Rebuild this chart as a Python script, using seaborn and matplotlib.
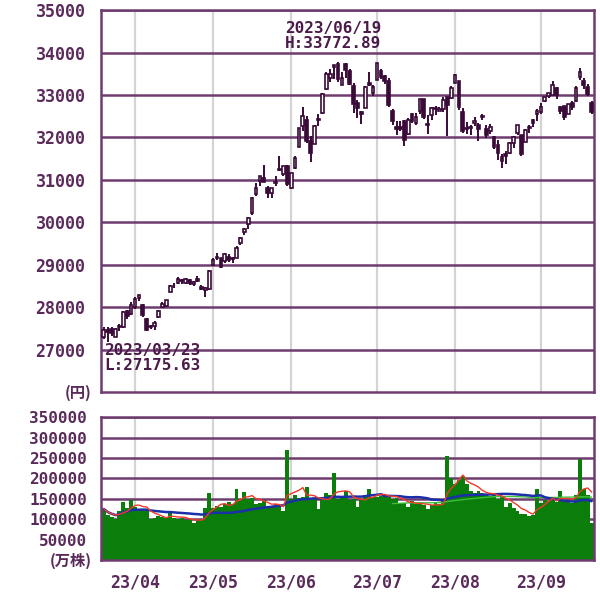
import numpy as np
import pandas as pd
import matplotlib
matplotlib.use("Agg")
import matplotlib.pyplot as plt
import seaborn as sns

# daily OHLC (yen), 2023/03/22 .. 2023/09/21
opens = [27300, 27460, 27480, 27300, 27560, 27520, 27900, 27830, 28000, 28220,
         28060, 27720, 27560, 27560, 27760, 28000, 28030, 28350, 28520, 28570,
         28620, 28560, 28640, 28540, 28660, 28470, 28400, 28420, 29000, 29150,
         29150, 29080, 29190, 29140, 29160, 29500, 29760, 29950, 30210, 30670,
         30980, 31050, 30800, 30700, 30960, 31260, 31130, 31320, 30800, 31280,
         31780, 32260, 32410, 31920, 31850, 32400, 32580, 33150, 33390, 33660,
         33720, 33240, 33720, 33570, 33200, 32800, 32590, 32700, 33280, 33050,
         33350, 33570, 33440, 33340, 32620, 32240, 32250, 32380, 32080, 32550,
         32340, 32630, 32900, 32300, 32530, 32700, 32620, 32680, 32960, 32930,
         33290, 33340, 32600, 32230, 32210, 32350, 32300, 32510, 32200, 32140,
         32010, 31830, 31540, 31620, 31630, 31860, 32100, 32050, 31900, 32220,
         32400, 32540, 32600, 32850, 32970, 33000, 33170, 32720, 32740, 32550,
         32820, 32860, 33420, 33330, 33180, 32800]
highs = [27520, 27520, 27520, 27500, 27600, 27900, 27930, 28120, 28230, 28290,
         28070, 27740, 27580, 27680, 27930, 28120, 28160, 28530, 28560, 28700,
         28660, 28690, 28670, 28620, 28740, 28520, 28480, 28880, 29160, 29280,
         29160, 29280, 29240, 29170, 29430, 29650, 29870, 30130, 30600, 30920,
         31090, 31350, 30860, 30800, 31090, 31560, 31330, 31360, 31160, 31550,
         32220, 32710, 32510, 32030, 32280, 32540, 33040, 33540, 33600, 33710,
         33772.89, 33530, 33750, 33600, 33270, 32870, 32610, 33200, 33530, 33230,
         33760, 33600, 33480, 33400, 32670, 32380, 32380, 32410, 32460, 32580,
         32580, 32900, 32900, 32520, 32710, 32750, 32710, 32950, 32960, 33200,
         33490, 33340, 32690, 32360, 32290, 32490, 32350, 32550, 32290, 32310,
         32040, 31930, 31610, 31690, 31900, 32030, 32300, 32060, 32190, 32290,
         32430, 32670, 32800, 32960, 33040, 33320, 33180, 32750, 32750, 32790,
         32850, 33200, 33630, 33390, 33260, 32850]
lows = [27240, 27175.63, 27310, 27300, 27440, 27500, 27720, 27810, 27950, 28150,
        27770, 27430, 27480, 27460, 27740, 27990, 28010, 28350, 28450, 28550,
        28540, 28550, 28530, 28500, 28600, 28400, 28240, 28400, 28980, 29100,
        28930, 29040, 29060, 29040, 29150, 29470, 29700, 29850, 30180, 30630,
        30860, 30950, 30560, 30560, 30850, 31200, 31090, 30850, 30780, 31260,
        31780, 32140, 31870, 31420, 31850, 32260, 32540, 33120, 33300, 33380,
        33310, 33230, 33410, 33230, 32580, 32450, 32310, 32700, 33220, 32980,
        33350, 33380, 33250, 32720, 32300, 32060, 32140, 31790, 32050, 32330,
        32280, 32550, 32430, 32080, 32420, 32530, 32610, 32600, 32040, 32900,
        33290, 32650, 32110, 32090, 32050, 32270, 31910, 32400, 31990, 32080,
        31720, 31460, 31280, 31380, 31600, 31750, 32050, 31560, 31880, 32110,
        32250, 32380, 32550, 32830, 32920, 32990, 32900, 32550, 32420, 32540,
        32650, 32840, 33360, 33150, 32980, 32550]
closes = [27470, 27420, 27390, 27480, 27520, 27880, 27780, 28040, 28190, 28290,
          27810, 27470, 27520, 27630, 27920, 28080, 28160, 28490, 28510, 28660,
          28610, 28660, 28560, 28590, 28620, 28420, 28460, 28860, 29120, 29160,
          28950, 29240, 29120, 29130, 29390, 29630, 29840, 30090, 30570, 30810,
          31090, 30960, 30680, 30800, 30920, 31230, 31330, 30890, 31150, 31520,
          32220, 32510, 31910, 31640, 32270, 32430, 33020, 33500, 33490, 33710,
          33370, 33390, 33580, 33260, 32780, 32700, 32540, 33190, 33230, 33190,
          33750, 33420, 33340, 32770, 32390, 32190, 32200, 31940, 32420, 32390,
          32490, 32900, 32490, 32300, 32700, 32680, 32670, 32890, 32760, 33170,
          33480, 32710, 32160, 32190, 32250, 32380, 32200, 32470, 32060, 32240,
          31770, 31630, 31450, 31570, 31860, 32010, 32290, 31620, 32170, 32230,
          32330, 32620, 32710, 32940, 33040, 33240, 32990, 32610, 32470, 32780,
          32710, 33170, 33530, 33240, 33020, 32600]
high_date = "2023/06/19"
low_date = "2023/03/23"

# volume (10k shares)
volumes = [125000, 110000, 105000, 100000, 120000, 143000, 128000, 147000, 130000, 125000,
           125000, 122000, 100000, 102000, 108000, 105000, 103000, 117000, 102000, 100000,
           104000, 98000, 100000, 90000, 100000, 98000, 128000, 164000, 128000, 132000,
           130000, 136000, 142000, 138000, 175000, 146000, 166000, 150000, 152000, 136000,
           140000, 146000, 132000, 130000, 138000, 133000, 121000, 270000, 150000, 160000,
           152000, 155000, 178000, 150000, 152000, 125000, 148000, 165000, 160000, 212000,
           150000, 155000, 170000, 148000, 150000, 130000, 148000, 160000, 175000, 155000,
           155000, 158000, 160000, 158000, 150000, 152000, 140000, 140000, 130000, 145000,
           138000, 140000, 135000, 125000, 135000, 140000, 138000, 145000, 255000, 200000,
           185000, 195000, 205000, 185000, 170000, 165000, 168000, 165000, 160000, 158000,
           162000, 150000, 155000, 130000, 140000, 128000, 120000, 113000, 112000, 108000,
           110000, 175000, 140000, 148000, 145000, 150000, 142000, 170000, 145000, 148000,
           140000, 160000, 247000, 175000, 160000, 90000]

month_start_idx = [8, 28, 48, 70, 90, 112]
month_labels = ["23/04", "23/05", "23/06", "23/07", "23/08", "23/09"]
price_ticks = [27000, 28000, 29000, 30000, 31000, 32000, 33000, 34000, 35000]
vol_ticks = [50000, 100000, 150000, 200000, 250000, 300000, 350000]

sns.set_style("white")
plt.rcParams['font.family'] = ['DejaVu Sans Mono', 'Noto Sans CJK JP', 'DejaVu Sans']

txt = '#5a2a5a'
grid_h = '#6e3c6e'
grid_v = '#d4d4d4'
candle = '#3a0a38'

df = pd.DataFrame({'o': opens, 'h': highs, 'l': lows, 'c': closes, 'v': volumes})
df['i'] = np.arange(len(df))
df['ma5'] = df.v.rolling(5, min_periods=1).mean()
df['ma25'] = df.v.rolling(25, min_periods=1).mean()
df['ma75'] = df.v.rolling(75).mean()

fig = plt.figure(figsize=(6.0, 5.93), dpi=100)
ax = fig.add_axes([0.168, 0.339, 0.822, 0.644])
axv = fig.add_axes([0.168, 0.0556, 0.822, 0.241])

xlim = (-0.77, 125.6)

for a in (ax, axv):
    a.set_xlim(*xlim)
    for m in month_start_idx:
        a.axvline(m, color=grid_v, lw=1.6, zorder=0)
    for s in a.spines.values():
        s.set_color(grid_h)
        s.set_linewidth(1.8)

# --- price panel ---
ax.set_ylim(26000, 35000)
for t in price_ticks:
    ax.axhline(t, color=grid_h, lw=1.8, zorder=0.5)

ax.vlines(df.i, df.l, df.h, color=candle, lw=1.4, zorder=2)
body_lo = np.minimum(df.o, df.c)
body_h = np.maximum(np.abs(df.c - df.o), 20)
up = df.c >= df.o
ax.bar(df.i[up], body_h[up], bottom=body_lo[up], width=0.7,
       color='white', edgecolor=candle, linewidth=1.2, zorder=3)
ax.bar(df.i[~up], body_h[~up], bottom=body_lo[~up], width=0.7,
       color=candle, edgecolor=candle, linewidth=1.2, zorder=3)

ax.set_yticks(price_ticks)
ax.set_xticks([])
ax.tick_params(axis='y', length=8, width=1.8, color=grid_h, labelcolor=txt, labelsize=12, pad=3)
for lab in ax.get_yticklabels():
    lab.set_fontweight('bold')

ax.text(0.373, 0.972, "%s\nH:%.2f" % (high_date, df.h.max()), transform=ax.transAxes,
        ha='left', va='top', color='#4a1a48', fontsize=11.5, fontweight='bold', linespacing=1.0)
ax.text(0.006, 0.128, "%s\nL:%.2f" % (low_date, df.l.min()), transform=ax.transAxes,
        ha='left', va='top', color='#4a1a48', fontsize=11.5, fontweight='bold', linespacing=1.0)
fig.text(0.153, 0.337, "(円)", ha='right', va='center', color=txt, fontsize=11,
         fontweight='bold', family=['Noto Sans CJK JP', 'DejaVu Sans'])

# --- volume panel ---
axv.set_ylim(0, 350000)
for t in vol_ticks:
    axv.axhline(t, color=grid_h, lw=1.8, zorder=0.5)
sns.barplot(x=df.i, y=df.v, native_scale=True, width=1.0, color='#0a7d0a',
            saturation=1, linewidth=0, ax=axv, zorder=2)
sns.lineplot(x=df.i, y=df.ma75, color='#3cc03c', lw=1.0, ax=axv, zorder=3)
sns.lineplot(x=df.i, y=df.ma25, color='#1a2fa8', lw=1.8, ax=axv, zorder=4)
sns.lineplot(x=df.i, y=df.ma5, color='#f03a2a', lw=1.0, ax=axv, zorder=5)
axv.set_xlim(*xlim)
axv.set_xlabel('')
axv.set_ylabel('')
axv.set_yticks(vol_ticks)
axv.set_xticks(month_start_idx)
axv.set_xticklabels(month_labels)
axv.tick_params(axis='y', length=8, width=1.8, color=grid_h, labelcolor=txt, labelsize=11.5, pad=2)
axv.tick_params(axis='x', length=6, width=1.8, color=grid_h, labelcolor=txt, labelsize=12, pad=4)
for lab in axv.get_yticklabels() + axv.get_xticklabels():
    lab.set_fontweight('bold')
fig.text(0.153, 0.054, "(万株)", ha='right', va='center', color=txt, fontsize=11,
         fontweight='bold', family=['Noto Sans CJK JP', 'DejaVu Sans'])

fig.savefig('out.png', dpi=100)
